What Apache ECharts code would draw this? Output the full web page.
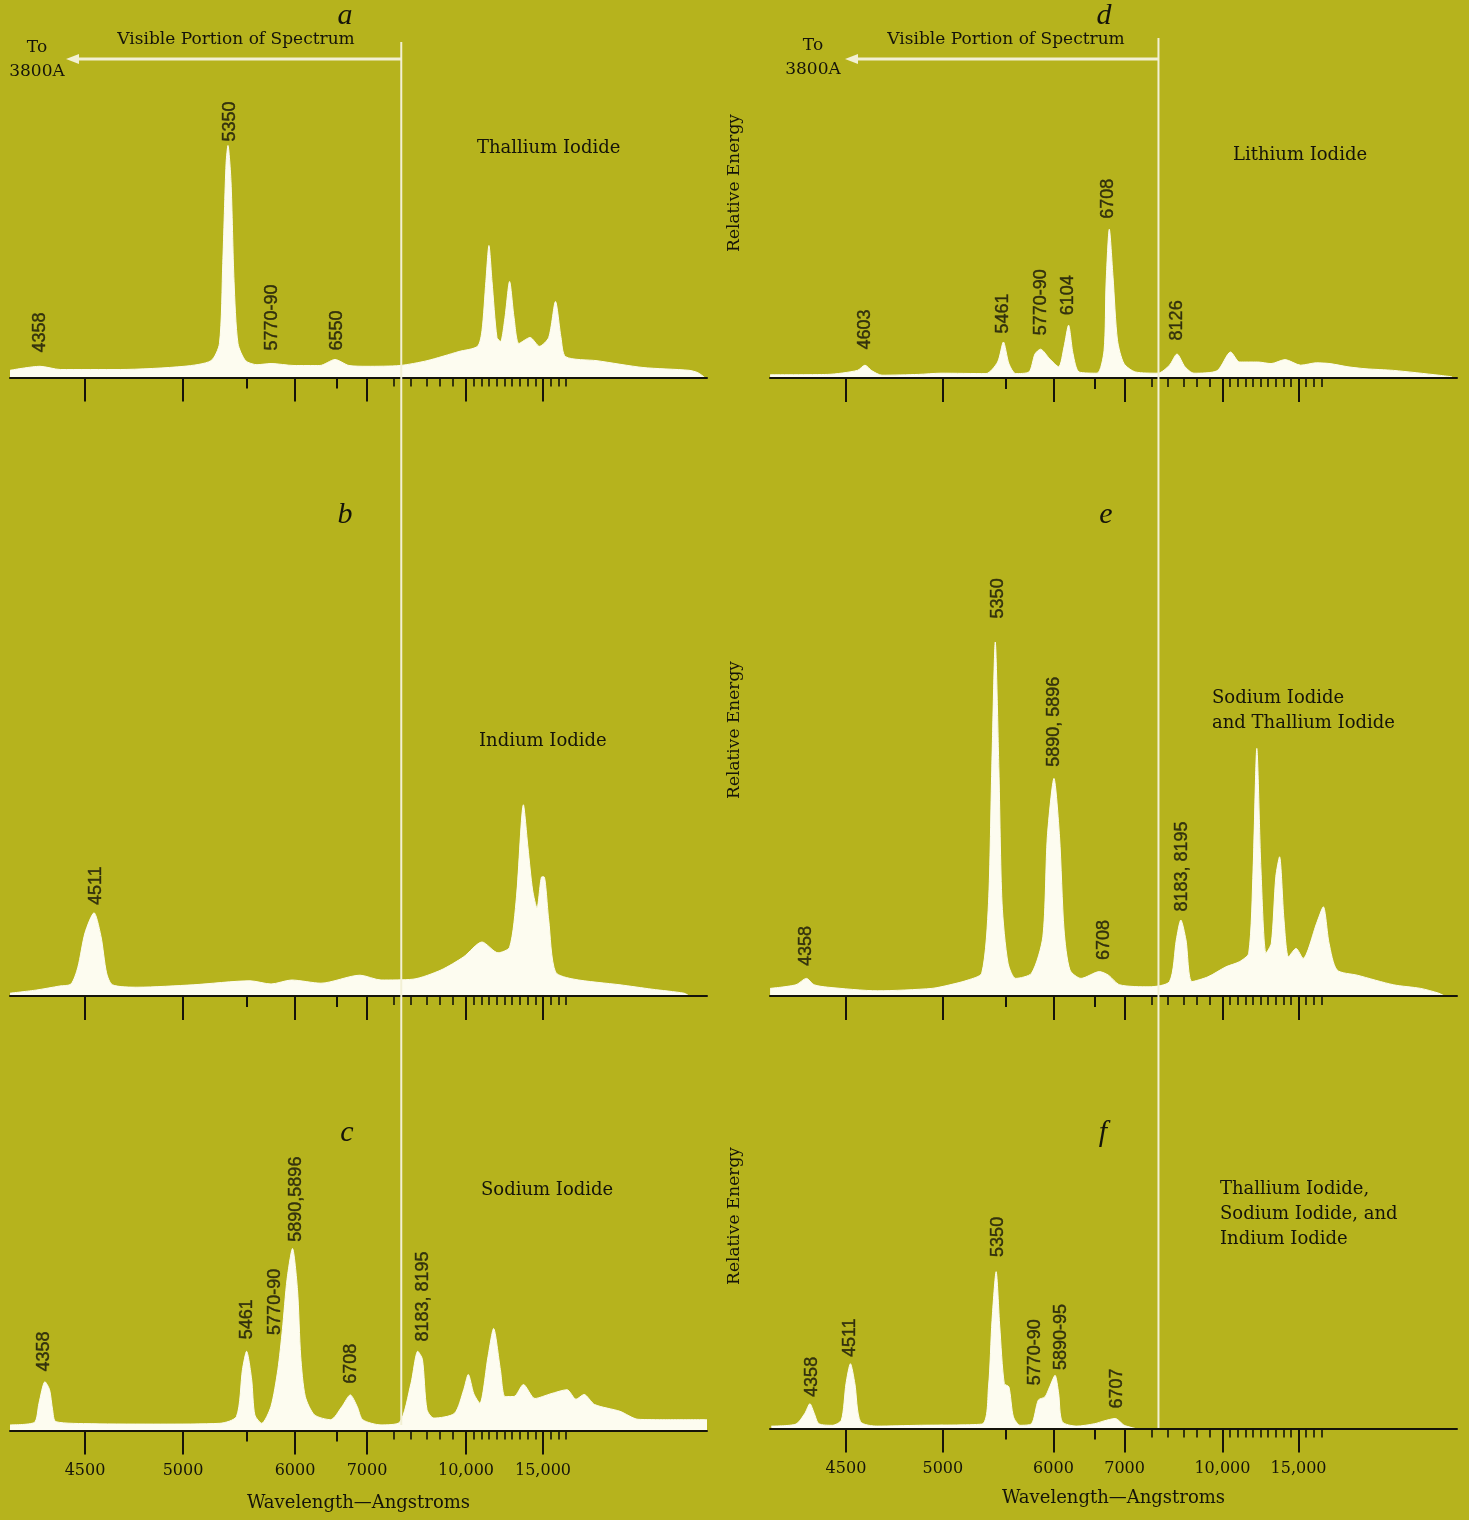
<!DOCTYPE html>
<html>
<head>
<meta charset="utf-8">
<script src="https://cdn.jsdelivr.net/npm/echarts@6/dist/echarts.min.js"></script>
<style>
html,body{margin:0;padding:0;background:#b6b31d;}
#c{width:1469px;height:1520px;}
</style>
</head>
<body>
<div id="c"></div>
<script>
// ---------------- DATA ----------------
// Axis scale (non-linear wavelength axis): wavelength anchors and their scale positions
const SCALE_WL  = [4220, 4358, 4500, 5000, 5500, 6000, 6500, 7000, 7500, 8000, 8500, 9000, 9500, 10000, 15000, 26000];
const SCALE_POS = [10, 46, 85, 183, 246.5, 295, 336.5, 367, 394, 410.5, 427, 440, 453, 466, 543, 712.4];

const TICKS_MAJOR = [4500, 5000, 6000, 7000, 10000, 15000];
const TICK_LABELS = ['4500', '5000', '6000', '7000', '10,000', '15,000'];
const TICKS_MID = [5500, 6500];
const TICKS_MINOR = [7500, 8000, 8500, 9000, 9500, 10500, 11000, 11500, 12000, 12500, 13000, 13500, 14000, 14500, 15500, 16000, 16500];
const VISIBLE_EDGE = 7720;

// Spectra: [wavelength (A), relative energy]
const thalliumIodide = [[4220,1.8],[4335,2.8],[4410,2],[4680,2],[5008,2.8],[5220,4.2],[5287,8.5],[5313,28.5],[5339,53.5],[5354,58],[5378,49],[5402,24],[5433,8.5],[5493,4.2],[5608,3.2],[5753,3.5],[5990,3],[6300,3],[6482,4.5],[6705,3],[7000,2.8],[7682,3],[8500,4.2],[9730,6.5],[10750,7.8],[11040,11.8],[11290,24],[11490,33],[11690,24],[12010,10],[12240,9],[12530,15],[12830,24],[13120,15],[13440,8.5],[14160,10],[14770,7.8],[15370,10],[15810,19],[16170,10],[16470,5.2],[18510,4.2],[21490,2.5],[24480,1.8],[25060,1.2],[25500,0]];
const indiumIodide = [[4220,0.7],[4322,1.5],[4408,2.5],[4449,3],[4474,7.2],[4500,15.8],[4546,20.8],[4582,14.8],[4610,5.8],[4640,2.8],[4770,2.2],[5080,2.8],[5536,3.8],[5753,3],[5964,4],[6313,3.2],[6885,5.2],[7260,4],[8076,4.2],[9038,6.5],[9911,9.8],[11040,13.5],[12078,10.8],[12831,12.2],[13279,24.8],[13728,47.8],[14026,37],[14325,26.5],[14611,22],[14923,29.8],[15065,29.8],[15371,19],[15812,6],[17013,4.2],[20000,2.8],[22078,1.7],[24156,0.7],[24500,0]];
const sodiumIodide = [[4220,1.4],[4313,2],[4331,6.8],[4354,12.2],[4371,10.2],[4382,5.2],[4394,2.2],[4535,1.7],[4886,1.6],[5291,1.8],[5421,3.5],[5468,15.2],[5501,19.8],[5553,12.8],[5586,3.9],[5657,1.8],[5752,6],[5823,15.2],[5870,25.2],[5918,37.8],[5974,45.5],[6030,35.2],[6069,18.5],[6124,8.5],[6235,3.9],[6429,2.7],[6590,6],[6726,8.9],[6839,6],[6929,2.7],[7259,1.4],[7664,2],[8015,11.8],[8221,19.8],[8361,17.8],[8500,5.2],[8765,3.1],[9558,4.3],[9912,10.2],[10149,14],[10507,9.2],[10896,6.8],[11429,18.5],[11792,25.5],[12234,15.2],[12533,8.5],[13117,8.5],[13728,11.5],[14475,8],[15520,9.2],[16559,10.2],[17143,7.8],[17663,9],[18351,6.5],[20000,4.8],[21169,2.8],[22968,2.7],[25650,2.7]];
const lithiumIodide = [[4213,0.8],[4433,0.9],[4559,1.9],[4598,3.2],[4634,1.8],[4686,0.7],[4874,0.9],[4991,1.2],[5344,1.1],[5437,4],[5483,9],[5535,3.6],[5606,1.1],[5744,1.5],[5807,6],[5865,7.2],[5960,4.8],[6063,2.8],[6129,7.8],[6184,13.2],[6239,6],[6312,1.5],[6543,1.2],[6659,6.9],[6692,23.5],[6746,37.2],[6808,25.2],[6882,9.4],[6990,3.6],[7206,1.5],[7706,1.2],[8058,3.2],[8288,6],[8542,2.8],[8892,1.2],[9788,1.8],[10539,6.5],[11130,4],[12318,4],[13195,3.6],[14118,4.6],[15143,3.2],[16189,3.8],[17072,3.6],[18254,2.8],[19436,2.3],[21248,1.9],[24221,0.7],[25091,0.3]];
const sodiumThalliumIodide = [[4213,1.9],[4313,2.8],[4354,4.4],[4383,2.8],[4433,2.2],[4663,1.3],[4944,1.9],[5057,2.8],[5201,4],[5310,5.7],[5364,23.2],[5390,56.5],[5418,88.5],[5447,56.5],[5472,23.2],[5526,8.2],[5606,4.4],[5771,5.7],[5889,14.8],[5936,39.8],[6006,54.4],[6074,39.8],[6129,16.5],[6201,6.5],[6336,4.4],[6582,6.1],[6731,5.2],[6918,2.8],[7457,2.3],[8058,3.6],[8267,14],[8406,19],[8581,14],[8815,3.6],[9438,4.8],[10234,7.3],[11130,8.6],[11727,10.7],[12013,31.5],[12260,61.9],[12533,31.5],[12864,10.7],[13214,13.2],[13507,29.8],[13753,34.8],[14046,19],[14345,9.8],[14838,11.9],[15299,9.4],[16189,18.2],[16630,22.3],[17007,13.2],[17533,6.5],[18864,5.2],[21248,2.8],[23027,1.9],[24215,0.7],[24600,0]];
const thalliumSodiumIndiumIodide = [[4218,0.6],[4313,1.1],[4348,3.8],[4367,6.2],[4383,3.8],[4400,1.2],[4450,0.8],[4483,2.1],[4500,11.2],[4523,16.2],[4546,11.2],[4575,1.7],[4663,0.6],[4874,0.8],[5310,1.1],[5364,10.4],[5392,27],[5425,39.2],[5454,25.4],[5490,11.2],[5535,10.4],[5582,2.9],[5653,0.8],[5771,1.2],[5842,7.1],[5911,7.9],[5960,10.4],[6019,13.3],[6063,8.8],[6107,1.7],[6283,0.6],[6505,1.2],[6659,1.9],[6844,2.5],[6995,0.8],[7206,0]];

// Peak annotations: [text, wavelength position on axis, energy level of label start]
const PEAKS_A = [['4358',4335,6.25],['5350',5370,59],['5770-90',5763,6.75],['6550',6508,6.75]];
const PEAKS_B = [['4511',4558,22.75]];
const PEAKS_C = [['4358',4350,14.75],['5461',5501,22.8],['5770-90',5790,23.9],['5890,5896',6012,47.2],['6708',6741,11.7],['8183, 8195',8392,22.25]];
const PEAKS_D = [['4603',4598,7.1],['5461',5480,11.1],['5770-90',5865,10.7],['6104',6174,15.7],['6708',6731,39.8],['8126',8294,9.4]];
const PEAKS_E = [['4358',4354,7.5],['5350',5437,94.4],['5890, 5896',6006,57.3],['6708',6656,9],['8183, 8195',8433,21.1]];
const PEAKS_F = [['4358',4375,7.9],['4511',4519,17.9],['5350',5437,42.9],['5770-90',5807,10.8],['5890-95',6092,14.6],['6707',6882,5]];

const TITLES = {
  a: ['Thallium Iodide'],
  b: ['Indium Iodide'],
  c: ['Sodium Iodide'],
  d: ['Lithium Iodide'],
  e: ['Sodium Iodide', 'and Thallium Iodide'],
  f: ['Thallium Iodide,', 'Sodium Iodide, and', 'Indium Iodide']
};

// ---------------- LAYOUT / STYLE ----------------
const BG = '#b6b31d', WHITE = '#fdfcf0', INK = '#15140a', EDGE = '#f2f0d4';
const SERIF = "'DejaVu Serif', 'Liberation Serif', serif";
const SANS = "'Liberation Sans', Arial, sans-serif";
const PX_PER_UNIT = 4;
const COLS = {
  L: {left: 10, width: 697, smin: 10, smax: 707},
  R: {left: 770, width: 687, smin: 8.1, smax: 703.4}
};
const PANELS = [
  {key:'a', col:'L', base:377.5, top:90,  data:thalliumIodide, peaks:PEAKS_A, bottom:false},
  {key:'b', col:'L', base:996,   top:700, data:indiumIodide, peaks:PEAKS_B, bottom:false},
  {key:'c', col:'L', base:1430.5,top:1140,data:sodiumIodide, peaks:PEAKS_C, bottom:true},
  {key:'d', col:'R', base:378,   top:90,  data:lithiumIodide, peaks:PEAKS_D, bottom:false},
  {key:'e', col:'R', base:996,   top:560, data:sodiumThalliumIodide, peaks:PEAKS_E, bottom:false},
  {key:'f', col:'R', base:1428.5,top:1140,data:thalliumSodiumIndiumIodide, peaks:PEAKS_F, bottom:true}
];

function pos(w){
  const W = SCALE_WL, P = SCALE_POS;
  let i = 0;
  if (w <= W[0]) i = 0;
  else if (w >= W[W.length-1]) i = W.length - 2;
  else { while (w > W[i+1]) i++; }
  return P[i] + (w - W[i]) * (P[i+1] - P[i]) / (W[i+1] - W[i]);
}

const grids = [], xAxes = [], yAxes = [], series = [];
PANELS.forEach(function(p, i){
  const col = COLS[p.col];
  const h = p.base - p.top;
  grids.push({left: col.left, width: col.width, top: p.top, height: h, containLabel: false});
  yAxes.push({type:'value', gridIndex:i, min:0, max:h/PX_PER_UNIT, show:false, splitLine:{show:false}});
  const xi = xAxes.length;
  const common = {type:'value', gridIndex:i, min:col.smin, max:col.smax, position:'bottom', offset:0,
                  splitLine:{show:false}, z:5};
  xAxes.push(Object.assign({}, common, {
    axisLine:{show:true, onZero:false, lineStyle:{color:INK, width:2}},
    axisTick:{show:true, customValues: TICKS_MAJOR.map(pos), length:24, lineStyle:{color:INK, width:2}},
    axisLabel:{show:p.bottom, customValues: TICKS_MAJOR.map(pos), margin:32, color:INK, fontFamily:SERIF, fontSize:16,
      formatter:function(v){ for (let k=0;k<TICKS_MAJOR.length;k++){ if (Math.abs(pos(TICKS_MAJOR[k])-v) < 0.05) return TICK_LABELS[k]; } return ''; }},
    name: p.bottom ? 'Wavelength\u2014Angstroms' : '',
    nameLocation:'middle', nameGap: p.col === 'L' ? 64 : 61,
    nameTextStyle:{color:INK, fontFamily:SERIF, fontSize:18}
  }));
  xAxes.push(Object.assign({}, common, {
    axisLine:{show:false},
    axisTick:{show:true, customValues: TICKS_MID.map(pos), length:11, lineStyle:{color:INK, width:2}},
    axisLabel:{show:false}
  }));
  xAxes.push(Object.assign({}, common, {
    axisLine:{show:false},
    axisTick:{show:true, customValues: TICKS_MINOR.map(pos), length:9, lineStyle:{color:INK, width:1.6}},
    axisLabel:{show:false}
  }));
  series.push({
    type:'line', xAxisIndex:xi, yAxisIndex:i, symbol:'none', smooth:0.25, silent:true,
    data: p.data.map(function(d){ return [pos(d[0]), d[1]]; }),
    lineStyle:{color:WHITE, width:1}, areaStyle:{color:WHITE, opacity:1}, z:2
  });
  series.push({
    type:'scatter', xAxisIndex:xi, yAxisIndex:i, symbolSize:1, silent:true,
    itemStyle:{color:'rgba(0,0,0,0)'},
    data: p.peaks.map(function(d){ return {value:[pos(d[1]), d[2]], name:d[0]}; }),
    label:{show:true, position:'inside', formatter:function(q){ return q.name; }, rotate:90,
      align:'left', verticalAlign:'middle', color:INK, fontFamily:SANS, fontSize:18,
      textBorderColor:INK, textBorderWidth:0.4},
    z:10
  });
});

// overlay grids for the visible-spectrum boundary
const OVER = [
  {col:'L', top:42, bottom:1425},
  {col:'R', top:38, bottom:1428}
];
const overlayIdx = [];
OVER.forEach(function(o){
  const col = COLS[o.col];
  const gi = grids.length;
  grids.push({left:col.left, width:col.width, top:o.top, height:o.bottom - o.top});
  yAxes.push({type:'value', gridIndex:gi, min:0, max:1, show:false});
  const xi = xAxes.length;
  xAxes.push({type:'value', gridIndex:gi, min:col.smin, max:col.smax, show:false});
  overlayIdx.push({xi:xi, yi:yAxes.length-1});
  series.push({
    type:'line', xAxisIndex:xi, yAxisIndex:yAxes.length-1, symbol:'none', silent:true,
    data:[[pos(VISIBLE_EDGE),0],[pos(VISIBLE_EDGE),1]],
    lineStyle:{color:EDGE, width:2}, z:6
  });
});

const chart = echarts.init(document.getElementById('c'), null, {renderer:'canvas', width:1469, height:1520});
chart.setOption({
  backgroundColor: BG,
  animation:false,
  grid: grids, xAxis: xAxes, yAxis: yAxes, series: series
});

// annotations
function txt(x, y, s, font, align, rot){
  return {type:'text', x:x, y:y, rotation: rot || 0, silent:true, z:20,
    style:{text:s, x:0, y:0, font:font, fill:INK, textAlign:align||'center', textVerticalAlign:'middle', align:align||'center', verticalAlign:'middle'}};
}
const g = [];
const serif17 = "17px " + SERIF, serif18 = "18px " + SERIF, letter = "italic 30px 'Liberation Serif', serif";
// arrows
overlayIdx.forEach(function(o, k){
  const bx = chart.convertToPixel({xAxisIndex:o.xi}, pos(VISIBLE_EDGE));
  const tip = k === 0 ? 66 : 845;
  const y = 59;
  g.push({type:'line', silent:true, z:20, shape:{x1:bx, y1:y, x2:tip+8, y2:y}, style:{stroke:EDGE, lineWidth:3}});
  g.push({type:'polygon', silent:true, z:20, shape:{points:[[tip,y],[tip+13,y-5],[tip+13,y+5]]}, style:{fill:EDGE}});
});
g.push(txt(236, 40, 'Visible Portion of Spectrum', serif17));
g.push(txt(1006, 40, 'Visible Portion of Spectrum', serif17));
g.push(txt(37, 48, 'To', serif17));
g.push(txt(37, 72, '3800A', serif17));
g.push(txt(813, 46, 'To', serif17));
g.push(txt(813, 70, '3800A', serif17));
// letters
[['a',345,16],['b',345,515],['c',347,1133],['d',1104,16],['e',1106,515],['f',1103,1133]].forEach(function(l){
  g.push(txt(l[1], l[2], l[0], letter));
});
// titles
const TITLE_POS = {a:[477,148], b:[479,741], c:[481,1190], d:[1233,155], e:[1212,698], f:[1220,1189]};
Object.keys(TITLES).forEach(function(k){
  TITLES[k].forEach(function(line, j){
    g.push(txt(TITLE_POS[k][0], TITLE_POS[k][1] + j*25, line, serif18, 'left'));
  });
});
// Relative Energy
[183, 730, 1216].forEach(function(y){
  g.push(txt(735, y, 'Relative Energy', serif17, 'center', Math.PI/2));
});
chart.setOption({graphic:{elements:g}});
</script>
</body>
</html>
